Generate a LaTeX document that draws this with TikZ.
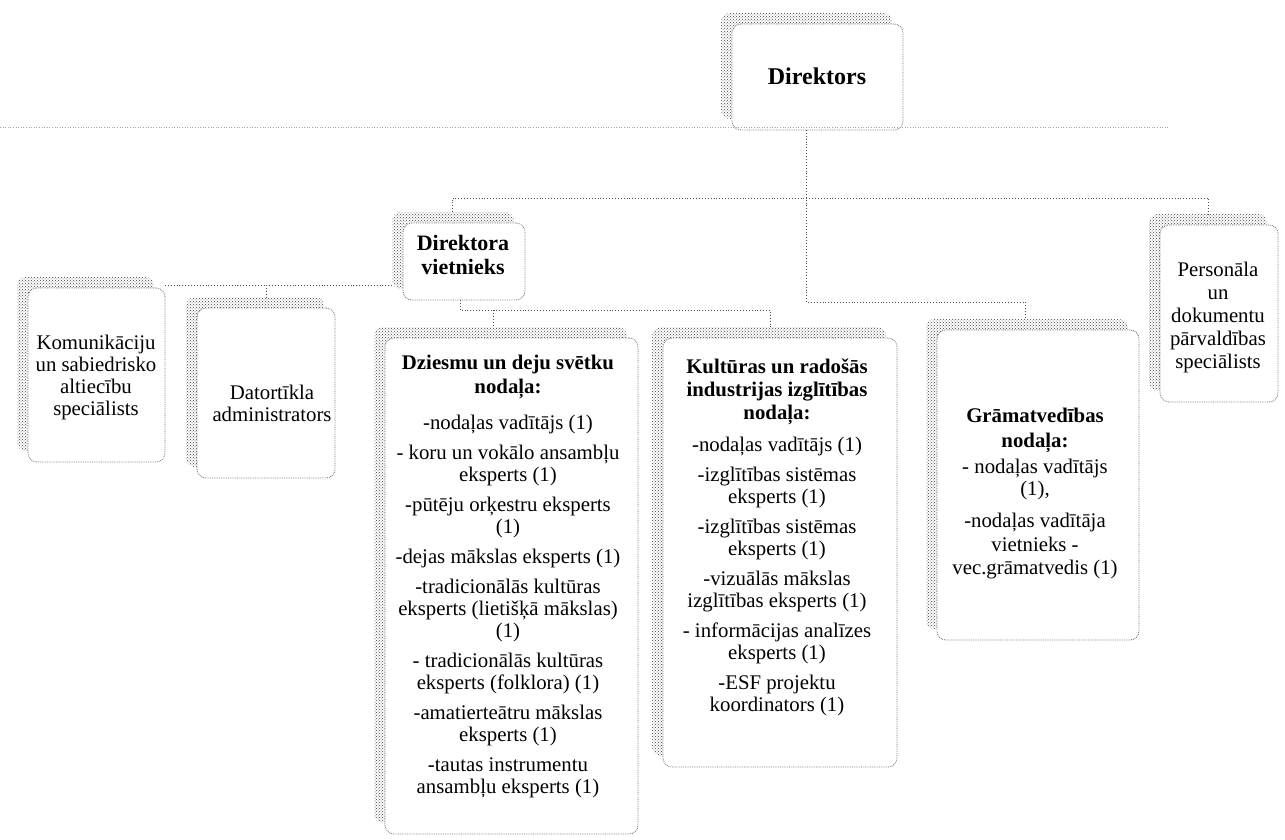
\documentclass[tikz,border=0pt]{standalone}
\usepackage{fontspec}
\setmainfont{Liberation Serif}
\usetikzlibrary{patterns}
\begin{document}
\begin{tikzpicture}[x=1pt,y=-1pt,
  box/.style={draw=black!55, densely dotted, line width=0.8pt, rounded corners=9pt,
    fill=white, inner sep=0pt, outer sep=0pt,
    preaction={pattern=crosshatch dots, pattern color=black!75, transform canvas={shift={(-11pt,11pt)}}}},
  txt/.style={align=center, font=\fontsize{20.8}{22}\selectfont, inner sep=0pt},
  conn/.style={draw=black!70, dotted, line width=0.9pt},
  faint/.style={draw=black!35, dotted, line width=0.6pt}]
\useasboundingbox[fill=white] (0,0) rectangle (1285,840);

% junction coordinates
\coordinate (trunk) at (806,198);
\coordinate (busL) at (452,198);
\coordinate (busR) at (1208,198);
\coordinate (gTurn) at (806,302);
\coordinate (gEnd) at (1025,302);
\coordinate (vTurn) at (460,310);
\coordinate (dT) at (493,310);
\coordinate (kT) at (770,310);
\coordinate (lBus) at (300,285);
\coordinate (dL) at (266,285);

% boxes
\path (817.5,77) node[box, minimum width=171, minimum height=106] (dir) {};
\path (464,261.5) node[box, minimum width=122, minimum height=77] (vie) {};
\path (96.5,375) node[box, minimum width=137, minimum height=174] (kom) {};
\path (266,393) node[box, minimum width=138, minimum height=170] (dat) {};
\path (511.5,586) node[box, minimum width=253, minimum height=496] (dzi) {};
\path (780,552.5) node[box, minimum width=234, minimum height=429] (kul) {};
\path (1038,485) node[box, minimum width=202, minimum height=310] (gra) {};
\path (1219,313.5) node[box, minimum width=118, minimum height=177] (per) {};

% connectors
\draw[conn] (dir.south -| trunk) -- (trunk) -- (gTurn) -- (gEnd) -- ([yshift=11pt]gra.north -| gEnd);
\draw[conn] ([yshift=11pt]vie.north -| busL) -- (busL) -- (busR) -- ([yshift=11pt]per.north -| busR);
\draw[conn] (vie.south -| vTurn) -- (vTurn) -- (kT) -- ([yshift=11pt]kul.north -| kT);
\draw[conn] (dT) -- ([yshift=11pt]dzi.north -| dT);
\draw[conn] ([xshift=-11pt]vie.west |- lBus) -- (lBus) -- (kom.east |- lBus);
\draw[conn] (dL) -- ([yshift=11pt]dat.north -| dL);

% texts
\node[txt, font=\fontsize{24}{26}\selectfont] (tdir) at (817,76) {\textbf{Direktors}};
\node[txt, font=\fontsize{22}{24}\selectfont] (tvie) at (463,255) {\textbf{Direktora}\\\textbf{vietnieks}};
\node[txt] (tkom) at (96,377) {Komunikāciju\\un sabiedrisko\\altiecību\\speciālists};
\node[txt] (tdat) at (272,403) {Datortīkla\\administrators};
\node[txt] (tper) at (1218,317) {Personāla\\[1pt]un\\[1pt]dokumentu\\[1pt]pārvaldības\\[1pt]speciālists};
\node[txt] (tdzi) at (508,576) {\textbf{Dziesmu un deju svētku}\\[2pt]\textbf{nodaļa:}\\[14pt]
-nodaļas vadītājs (1)\\[8pt]
- koru un vokālo ansambļu\\eksperts (1)\\[8pt]
-pūtēju orķestru eksperts\\(1)\\[8pt]
-dejas mākslas eksperts (1)\\[8pt]
-tradicionālās kultūras\\eksperts (lietišķā mākslas)\\(1)\\[8pt]
- tradicionālās kultūras\\eksperts (folklora) (1)\\[8pt]
-amatierteātru mākslas\\eksperts (1)\\[8pt]
-tautas instrumentu\\ansambļu eksperts (1)};
\node[txt] (tkul) at (777,537) {\textbf{Kultūras un radošās}\\[1pt]\textbf{industrijas izglītības}\\[1pt]\textbf{nodaļa:}\\[10pt]
-nodaļas vadītājs (1)\\[8pt]
-izglītības sistēmas\\eksperts (1)\\[8pt]
-izglītības sistēmas\\eksperts (1)\\[8pt]
-vizuālās mākslas\\izglītības eksperts (1)\\[8pt]
- informācijas analīzes\\eksperts (1)\\[8pt]
-ESF projektu\\koordinators (1)};
\node[txt] (tgra) at (1035,494) {\textbf{Grāmatvedības}\\[3pt]\textbf{nodaļa:}\\[4pt]
- nodaļas vadītājs\\(1),\\[10pt]
-nodaļas vadītāja\\[2pt]vietnieks -\\[1pt]vec.grāmatvedis (1)};

% faint scan line
\draw[faint] (0,127) -- (1170,127);
\end{tikzpicture}
\end{document}
